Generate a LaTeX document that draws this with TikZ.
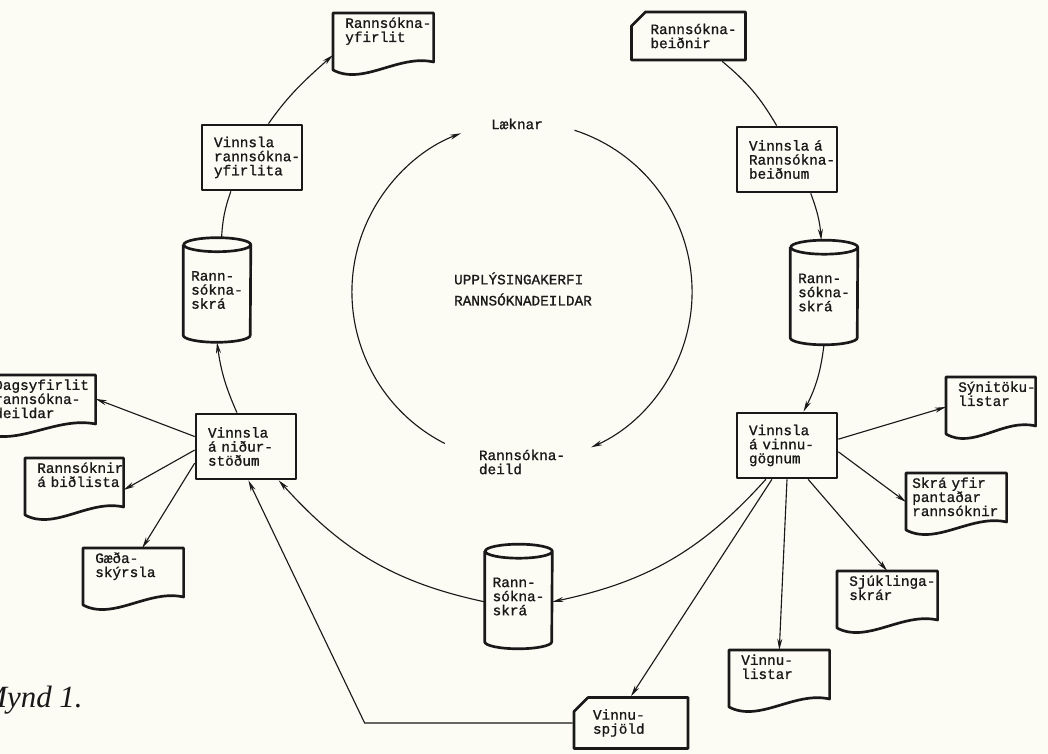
\documentclass[tikz,border=0pt]{standalone}
\usepackage{fontspec}
\setmonofont{Liberation Mono}[FakeBold=1.1]
\newfontfamily\captfont{Liberation Serif}
\usepackage{xcolor}
\usepackage{tikz}
\usetikzlibrary{arrows.meta,calc,shapes.misc}
\definecolor{paper}{rgb}{0.99,0.985,0.955}
\definecolor{ink}{rgb}{0.1,0.1,0.1}
% wavy-bottomed document outline round a named node
\newcommand{\drawdoc}[1]{%
  \draw[shp] (#1.north west) -- (#1.north east) -- ($(#1.north east)+(0,-49)$)
    .. controls ($(#1.north west)!0.65!(#1.north east)+(0,-41)$)
    and ($(#1.north west)!0.3!(#1.north east)+(0,-73)$)
    .. ($(#1.north west)+(0,-57)$) -- cycle;}
% disk file outline round a named node
\newcommand{\drawdisk}[1]{%
  \draw[shp] ($(#1.north west)+(0,-7)$) -- ($(#1.south west)+(0,7)$)
    arc[start angle=180, end angle=360, x radius=0.8375cm, y radius=0.175cm]
    -- ($(#1.north east)+(0,-7)$)
    arc[start angle=0, end angle=360, x radius=0.8375cm, y radius=0.175cm];}

\begin{document}
\begin{tikzpicture}[x=0.025cm, y=0.025cm,
    lbl/.style={font={\fontsize{10.2}{10}\selectfont\ttfamily}, text=ink},
    shp/.style={draw=ink, line width=1.9pt, line join=round},
    proc/.style={shp, lbl, minimum width=2.5cm, minimum height=1.625cm,
                 text width=1.9cm, inner xsep=0.3cm, inner ysep=0pt, align=left},
    doc/.style={lbl, anchor=north west, text width=1.9cm, inner xsep=0.3cm,
                inner ysep=3pt, align=left},
    card/.style={shp, lbl, chamfered rectangle, chamfered rectangle corners=north west,
                 chamfered rectangle xsep=5pt, chamfered rectangle ysep=5pt,
                 minimum width=2.5cm, minimum height=1.2cm, text width=1.9cm,
                 inner xsep=0.3cm, align=left},
    disk/.style={lbl, minimum width=1.675cm, minimum height=2.6cm,
                 inner xsep=0.1cm, align=left},
    con/.style={draw=ink, line width=0.8pt},
    arr/.style={con, -{Stealth[length=8pt, width=3.6pt]}}
  ]
  \useasboundingbox (0,0) rectangle (1048,754);
  \fill[paper] (0,0) rectangle (1048,754);

  % ring
  \coordinate (ctr) at (522,462);
  \node[lbl] (lkn) at (517,630) {Læknar};
  \node[lbl, align=left] (rnd) at (522,292) {Rannsókna-\\deild};
  \node[lbl, align=left, font={\fontsize{10.2}{15}\selectfont\ttfamily}] (ttl) at (523,465)
    {UPPLÝSINGAKERFI\\RANNSÓKNADEILDAR};

  % processing steps
  \node[proc] (vry) at (252,596.5) {Vinnsla\\rannsókna-\\yfirlita};
  \node[proc] (vrb) at (787,594.5) {Vinnsla~á\\Rannsókna-\\beiðnum};
  \node[proc] (vvg) at (787,308.5) {Vinnsla\\á~vinnu-\\gögnum};
  \node[proc] (vnd) at (246,307.5) {Vinnsla\\á~niður-\\stöðum};

  % cards
  \node[card] (rbd) at (688.5,718) {Rannsókna-\\beiðnir};
  \node[card] (vsp) at (631,31) {Vinnu-\\spjöld};

  % disk files
  \node[disk] (dsk1) at (217,464) {Rann-\\sókna-\\skrá};
  \node[disk] (dsk2) at (824,461.5) {Rann-\\sókna-\\skrá};
  \node[disk] (dsk3) at (518.5,157.5) {Rann-\\sókna-\\skrá};
  \drawdisk{dsk1} \drawdisk{dsk2} \drawdisk{dsk3}

  % documents
  \node[doc] (ryf) at (333,741) {Rannsókna-\\yfirlit};
  \node[doc, text width=2.225cm] (dsy) at (-18,379) {Dagsyfirlit\\rannsókna-\\deildar};
  \node[doc, text width=1.85cm] (rbl) at (25,296) {Rannsóknir\\á~biðlista};
  \node[doc] (gsk) at (83,206) {Gæða-\\skýrsla};
  \node[doc, text width=1.625cm] (syn) at (946,377) {Sýnitöku-\\listar};
  \node[doc, inner xsep=0.15cm, text width=2.2cm] (skr) at (906,281) {Skrá~yfir\\pantaðar\\rannsóknir};
  \node[doc] (sjk) at (837,183) {Sjúklinga-\\skrár};
  \node[doc] (vnl) at (729,104) {Vinnu-\\listar};
  \drawdoc{ryf} \drawdoc{dsy} \drawdoc{rbl} \drawdoc{gsk}
  \drawdoc{syn} \drawdoc{skr} \drawdoc{sjk} \drawdoc{vnl}

  \node[anchor=base west, inner sep=0pt, text=ink,
        font={\captfont\itshape\fontsize{22}{26}\selectfont}] (mynd) at (-19,46) {Mynd 1.};

  % connectors
  \draw[arr] ([shift={(72:4.25cm)}]ctr) arc[start angle=72, end angle=-66, radius=4.25cm];
  \draw[arr] ([shift={(243:4.25cm)}]ctr) arc[start angle=243, end angle=111, radius=4.25cm];

  \draw[arr] (vry.64) to[out=55, in=-138] ($(ryf.north west)+(0,-42)$);
  \draw[con] (dsk1.85) to[bend left=8] (vry.238);
  \draw[arr] (vnd.105) to[bend left=8] (dsk1.south);
  \draw[con] (rbd.-37) to[bend left=10] (vrb.107);
  \draw[arr] (vrb.-55) to[bend left=8] (dsk2.93);
  \draw[arr] (dsk2.south) to[bend left=10] (vvg.64);
  \draw[arr] (vvg.238) to[out=228, in=12] (dsk3.-9);
  \draw[arr] (dsk3.189) to[out=168, in=-48] (vnd.-46);

  \draw[arr] (vvg.7) -- ($(syn.north west)+(0,-30)$);
  \draw[arr] (vvg.-7) -- ($(skr.north west)+(0,-29)$);
  \draw[arr] (vvg.-58) -- (sjk.north);
  \draw[arr] (vvg.south) -- (vnl.north);
  \draw[arr] (vvg.246) -- (vsp.north);
  \draw[arr] (vsp.west) -- ++(-208,0) -- (vnd.274);

  \draw[arr] (vnd.169) -- (dsy.east);
  \draw[arr] (vnd.184) -- ($(rbl.north east)+(0,-32)$);
  \draw[arr] (vnd.198) -- ($(gsk.north)+(9,0)$);
\end{tikzpicture}
\end{document}
